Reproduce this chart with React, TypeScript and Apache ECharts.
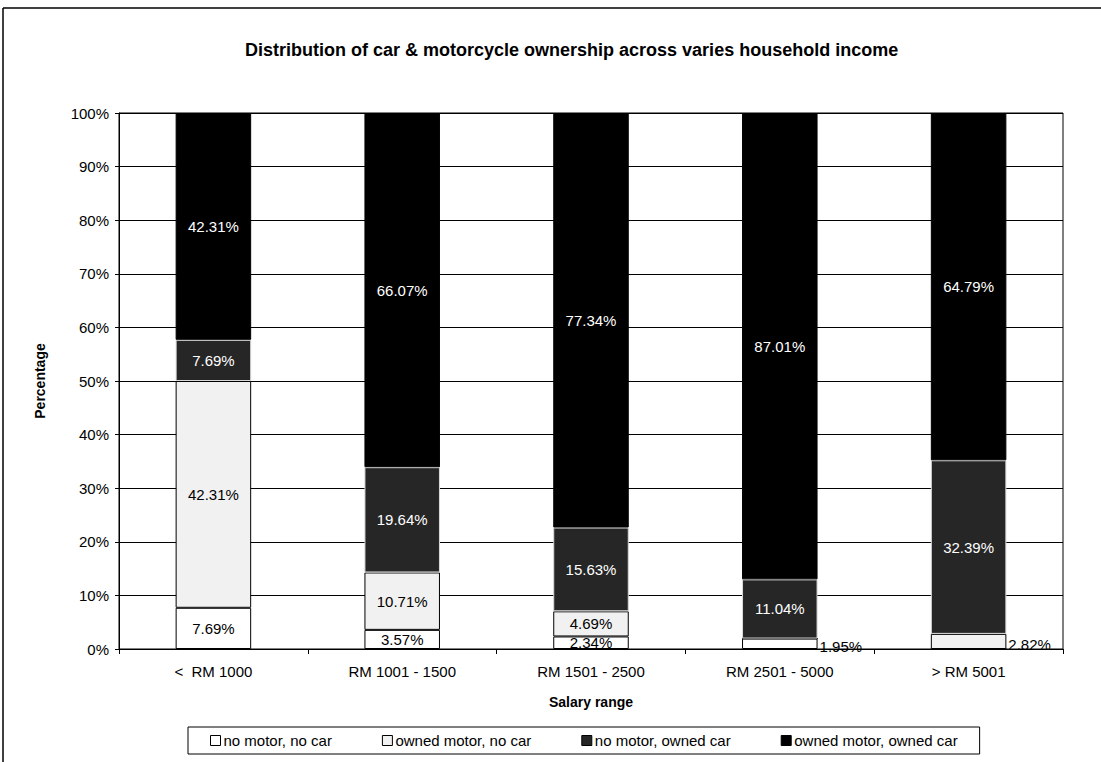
import React, { useEffect, useRef } from "react";
import * as echarts from "echarts";

const categories = ["<  RM 1000", "RM 1001 - 1500", "RM 1501 - 2500", "RM 2501 - 5000", "> RM 5001"];
const seriesNames = ["no motor, no car", "owned motor, no car", "no motor, owned car", "owned motor, owned car"];
const noMotorNoCar = [7.69, 3.57, 2.34, 1.95, 0];
const ownedMotorNoCar = [42.31, 10.71, 4.69, 0, 2.82];
const noMotorOwnedCar = [7.69, 19.64, 15.63, 11.04, 32.39];
const ownedMotorOwnedCar = [42.31, 66.07, 77.34, 87.01, 64.79];
// labels drawn beside the bar instead of inside it: [seriesIndex, categoryIndex]
const outsideLabels = [[0, 3], [1, 4]];
const yTicks = [0, 10, 20, 30, 40, 50, 60, 70, 80, 90, 100];

const FONT = "'Liberation Sans', Arial, sans-serif";

export default function App() {
  const ref = useRef<HTMLDivElement>(null);
  useEffect(() => {
    if (!ref.current) return;
    const chart = echarts.init(ref.current, null, { renderer: "svg" });
    const allData = [noMotorNoCar, ownedMotorNoCar, noMotorOwnedCar, ownedMotorOwnedCar];
    const fills = ["#ffffff", "#f1f1f1", "#262626", "#000000"];
    const borders = ["#000000", "#000000", "#d8d8d8", "#000000"];
    const labelColors = ["#000", "#000", "#fff", "#fff"];
    const series = allData.map((arr, si) => ({
      name: seriesNames[si],
      type: "bar",
      stack: "total",
      barWidth: "40%",
      itemStyle: { color: fills[si], borderColor: borders[si], borderWidth: 1 },
      label: {
        show: true,
        position: "inside",
        color: labelColors[si],
        fontFamily: FONT,
        fontSize: 15,
        formatter: (p: any) => (p.value ? p.value.toFixed(2) + "%" : ""),
      },
      data: arr.map((v, ci) => {
        const out = outsideLabels.some(([s, c]) => s === si && c === ci);
        return out
          ? { value: v, label: { position: "right", distance: 2, offset: [0, 3], color: "#000" } }
          : { value: v };
      }),
    }));

    chart.setOption({
      animation: false,
      backgroundColor: "#ffffff",
      title: {
        text: "Distribution of car & motorcycle ownership across varies household income",
        left: 240,
        top: 36,
        textStyle: { fontFamily: FONT, fontSize: 18, fontWeight: "bold", color: "#000" },
      },
      grid: { left: 119, right: 38, top: 113, bottom: 113, show: true, borderColor: "#000", borderWidth: 1 },
      legend: {
        data: seriesNames,
        left: 188,
        top: 727,
        padding: [6, 22],
        itemGap: 50,
        itemWidth: 10,
        itemHeight: 10,
        borderColor: "#000",
        borderWidth: 1,
        icon: "rect",
        textStyle: { fontFamily: FONT, fontSize: 15, color: "#000", padding: [0, 0, 0, -2] },
        itemStyle: { borderColor: "#000", borderWidth: 1 },
      },
      xAxis: {
        type: "category",
        data: categories,
        name: "Salary range",
        nameLocation: "middle",
        nameGap: 46,
        nameTextStyle: { fontFamily: FONT, fontSize: 14, fontWeight: "bold", color: "#000" },
        axisLine: { lineStyle: { color: "#000", width: 1 } },
        axisTick: { show: true, length: 5, lineStyle: { color: "#000" } },
        axisLabel: { fontFamily: FONT, fontSize: 15, color: "#000", margin: 15 },
      },
      yAxis: {
        type: "value",
        min: yTicks[0],
        max: yTicks[yTicks.length - 1],
        interval: 10,
        name: "Percentage",
        nameLocation: "middle",
        nameGap: 72,
        nameTextStyle: { fontFamily: FONT, fontSize: 14, fontWeight: "bold", color: "#000" },
        axisLine: { show: true, lineStyle: { color: "#000", width: 1 } },
        axisTick: { show: true, length: 4, lineStyle: { color: "#000" } },
        axisLabel: { fontFamily: FONT, fontSize: 15, color: "#000", margin: 10, formatter: "{value}%" },
        splitLine: { show: true, lineStyle: { color: "#000", width: 1 } },
      },
      graphic: [
        { type: "line", shape: { x1: 3, y1: 8, x2: 1101, y2: 8 }, style: { stroke: "#000", lineWidth: 1.5 } },
        { type: "line", shape: { x1: 3, y1: 8, x2: 3, y2: 762 }, style: { stroke: "#000", lineWidth: 1.5 } },
      ],
      series,
    });
    return () => chart.dispose();
  }, []);
  return (
    <div
      ref={ref}
      style={{ position: "absolute", left: 0, top: 0, width: 1101, height: 762, background: "#fff" }}
    />
  );
}
